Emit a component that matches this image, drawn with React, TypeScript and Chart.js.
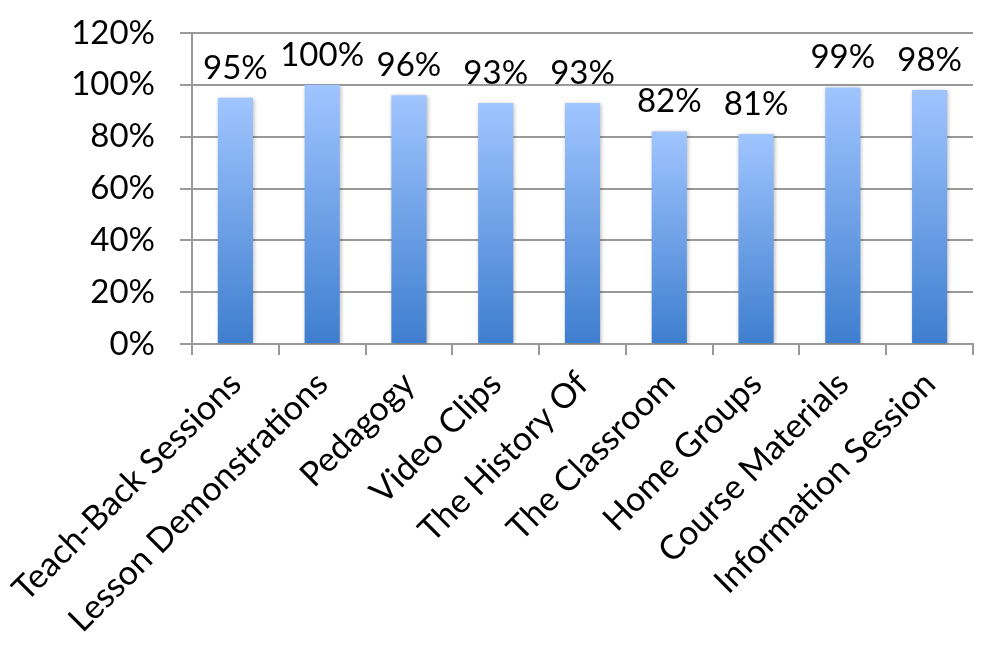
import React, { useEffect, useRef } from "react";
import { Chart, registerables } from "chart.js";

Chart.register(...registerables);

const categories = [
  "Teach-Back Sessions",
  "Lesson Demonstrations",
  "Pedagogy",
  "Video Clips",
  "The History Of",
  "The Classroom",
  "Home Groups",
  "Course Materials",
  "Information Session",
];
const values = [95, 100, 96, 93, 93, 82, 81, 99, 98];
const yTicks = [0, 20, 40, 60, 80, 100, 120];

const FONT = "Lato";

const labelPlugin = {
  id: "barLabels",
  beforeDatasetsDraw(chart: any) {
    const ctx = chart.ctx;
    ctx.save();
    ctx.shadowColor = "rgba(0,0,0,0.28)";
    ctx.shadowBlur = 4;
    ctx.shadowOffsetX = 1;
    ctx.shadowOffsetY = 1;
  },
  afterDatasetsDraw(chart: any) {
    const ctx = chart.ctx;
    ctx.restore();
    const meta = chart.getDatasetMeta(0);
    ctx.save();
    ctx.fillStyle = "#000";
    ctx.font = `33px ${FONT}`;
    ctx.textAlign = "center";
    ctx.textBaseline = "alphabetic";
    meta.data.forEach((bar: any, i: number) => {
      ctx.fillText(values[i] + "%", bar.x, bar.y - 19);
    });
    ctx.restore();
  },
};

export default function App() {
  const ref = useRef<HTMLCanvasElement>(null);
  useEffect(() => {
    document.body.style.margin = "0";
    const chart = new Chart(ref.current!, {
      type: "bar",
      data: {
        labels: categories,
        datasets: [
          {
            data: values,
            barPercentage: 0.405,
            categoryPercentage: 1,
            backgroundColor: (c: any) => {
              const ch = c.chart;
              const y = ch.scales && ch.scales.y;
              if (!y || c.parsed == null) return "#6b9fe6";
              const top = y.getPixelForValue(c.parsed.y);
              const bot = y.getPixelForValue(0);
              if (!isFinite(top) || !isFinite(bot) || top === bot) return "#6b9fe6";
              const g = ch.ctx.createLinearGradient(0, top, 0, bot);
              g.addColorStop(0, "#a0c5ff");
              g.addColorStop(1, "#3e7ecf");
              return g;
            },
            borderWidth: 0,
          },
        ],
      },
      options: {
        animation: false,
        responsive: false,
        maintainAspectRatio: false,
        layout: { padding: { top: 33, right: 27, left: 0, bottom: 0 } },
        plugins: {
          legend: { display: false },
          tooltip: { enabled: false },
          title: { display: false },
        },
        scales: {
          x: {
            offset: true,
            afterFit: (s: any) => {
              s.height = 667 - 344;
              s.paddingLeft = 0;
              s.paddingRight = 0;
            },
            grid: {
              offset: true,
              drawOnChartArea: false,
              color: "#999999",
              lineWidth: 2,
              tickLength: 11,
            },
            border: { color: "#999999", width: 2 },
            ticks: {
              color: "#000",
              font: { family: FONT, size: 34 },
              maxRotation: 45,
              minRotation: 45,
              autoSkip: false,
              padding: 9,
            },
          },
          y: {
            min: 0,
            max: 120,
            afterFit: (s: any) => {
              s.width = 192;
              s.paddingTop = 0;
              s.paddingBottom = 0;
            },
            afterBuildTicks: (s: any) => {
              s.ticks = yTicks.map((v) => ({ value: v }));
            },
            grid: {
              color: "#999999",
              lineWidth: 2,
              tickLength: 12,
            },
            border: { color: "#999999", width: 2 },
            ticks: {
              color: "#000",
              font: { family: FONT, size: 33 },
              padding: 25,
              callback: (v: any) => v + "%",
            },
          },
        },
      },
      plugins: [labelPlugin],
    });
    return () => chart.destroy();
  }, []);
  return (
    <div style={{ position: "absolute", left: 0, top: 0, width: 1000, height: 667 }}>
      <canvas ref={ref} width={1000} height={667} style={{ width: 1000, height: 667 }} />
    </div>
  );
}
